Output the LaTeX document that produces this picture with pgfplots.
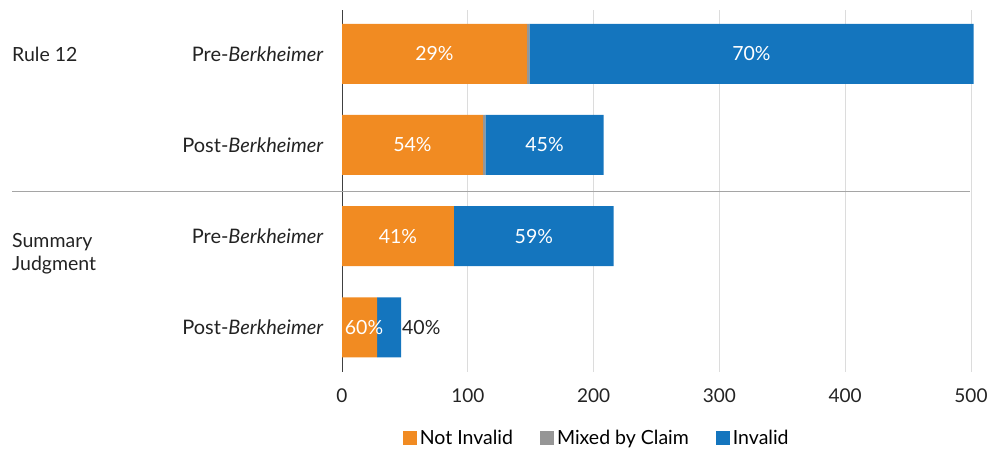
\documentclass[border=0pt]{standalone}
\usepackage{pgfplots}
\pgfplotsset{compat=1.18}
\usepackage{fontspec}
\setmainfont{Lato}
\definecolor{barorange}{RGB}{241,139,34}
\definecolor{bargray}{RGB}{150,150,150}
\definecolor{barblue}{RGB}{20,117,190}
\definecolor{gridc}{RGB}{220,220,220}
\definecolor{darktext}{RGB}{35,35,35}
\tikzset{pct/.style={font=\fontsize{19.5}{22}\selectfont, text=white}}

\begin{document}
\begin{tikzpicture}
\useasboundingbox (0,0) rectangle (991pt,453pt);
\begin{axis}[
    at={(342pt,81pt)}, anchor=south west,
    scale only axis,
    width=629pt, height=362pt,
    xbar stacked,
    bar width=60pt,
    xmin=0, xmax=500,
    ymin=-0.48, ymax=3.49,
    y dir=reverse,
    clip=false,
    axis x line*=bottom, axis y line*=left,
    x axis line style={draw=none},
    y axis line style={draw=black!75, line width=1pt},
    xtick={0,100,200,300,400,500},
    xticklabels={0,100,200,300,400,500},
    ytick={0,1,2,3},
    yticklabels={Pre-\textit{Berkheimer},Post-\textit{Berkheimer},Pre-\textit{Berkheimer},Post-\textit{Berkheimer}},
    major tick length=0pt,
    xmajorgrids, grid style={gridc, line width=0.8pt},
    tick label style={text=darktext},
    xticklabel style={font=\fontsize{19}{22}\selectfont, yshift=-13pt},
    yticklabel style={font=\fontsize{20}{22}\selectfont, xshift=-15pt},
    legend columns=-1,
    legend style={at={(0.405,-0.182)}, anchor=center, draw=none,
        font=\fontsize{19.5}{22}\selectfont, column sep=1pt},
    legend image code/.code={\fill[#1] (0pt,-7pt) rectangle (14pt,7pt);},
]
\addplot[fill=barorange, draw=none] coordinates {(147,0) (112,1) (89,2) (28,3)};
\addlegendentry{Not Invalid\rule{24pt}{0pt}}
\addplot[fill=bargray, draw=none] coordinates {(2,0) (2,1) (0,2) (0,3)};
\addlegendentry{Mixed by Claim\rule{24pt}{0pt}}
\addplot[fill=barblue, draw=none] coordinates {(353,0) (94,1) (127,2) (19,3)};
\addlegendentry{Invalid}

\coordinate (l1) at (axis cs:73.5,0);
\coordinate (l2) at (axis cs:325.5,0);
\coordinate (l3) at (axis cs:56,1);
\coordinate (l4) at (axis cs:161,1);
\coordinate (l5) at (axis cs:44.5,2);
\coordinate (l6) at (axis cs:152.5,2);
\coordinate (l7) at (axis cs:17.5,3);
\coordinate (l8) at (axis cs:63,3);
\end{axis}
\node[pct] at (l1) {29\%};
\node[pct] at (l2) {70\%};
\node[pct] at (l3) {54\%};
\node[pct] at (l4) {45\%};
\node[pct] at (l5) {41\%};
\node[pct] at (l6) {59\%};
\node[pct] at (l7) {60\%};
\node[pct, text=darktext] at (l8) {40\%};
\draw[gridc!75!black, line width=1pt] (12pt,261pt) -- (970pt,261pt);
\node[anchor=west, text=darktext, inner sep=0pt, font=\fontsize{19.5}{22}\selectfont] at (12pt,399pt) {Rule 12};
\node[anchor=north west, align=left, text=darktext, inner sep=0pt,
      font=\fontsize{19.5}{23}\selectfont] at (12pt,220pt) {Summary\\Judgment};
\end{tikzpicture}
\end{document}
